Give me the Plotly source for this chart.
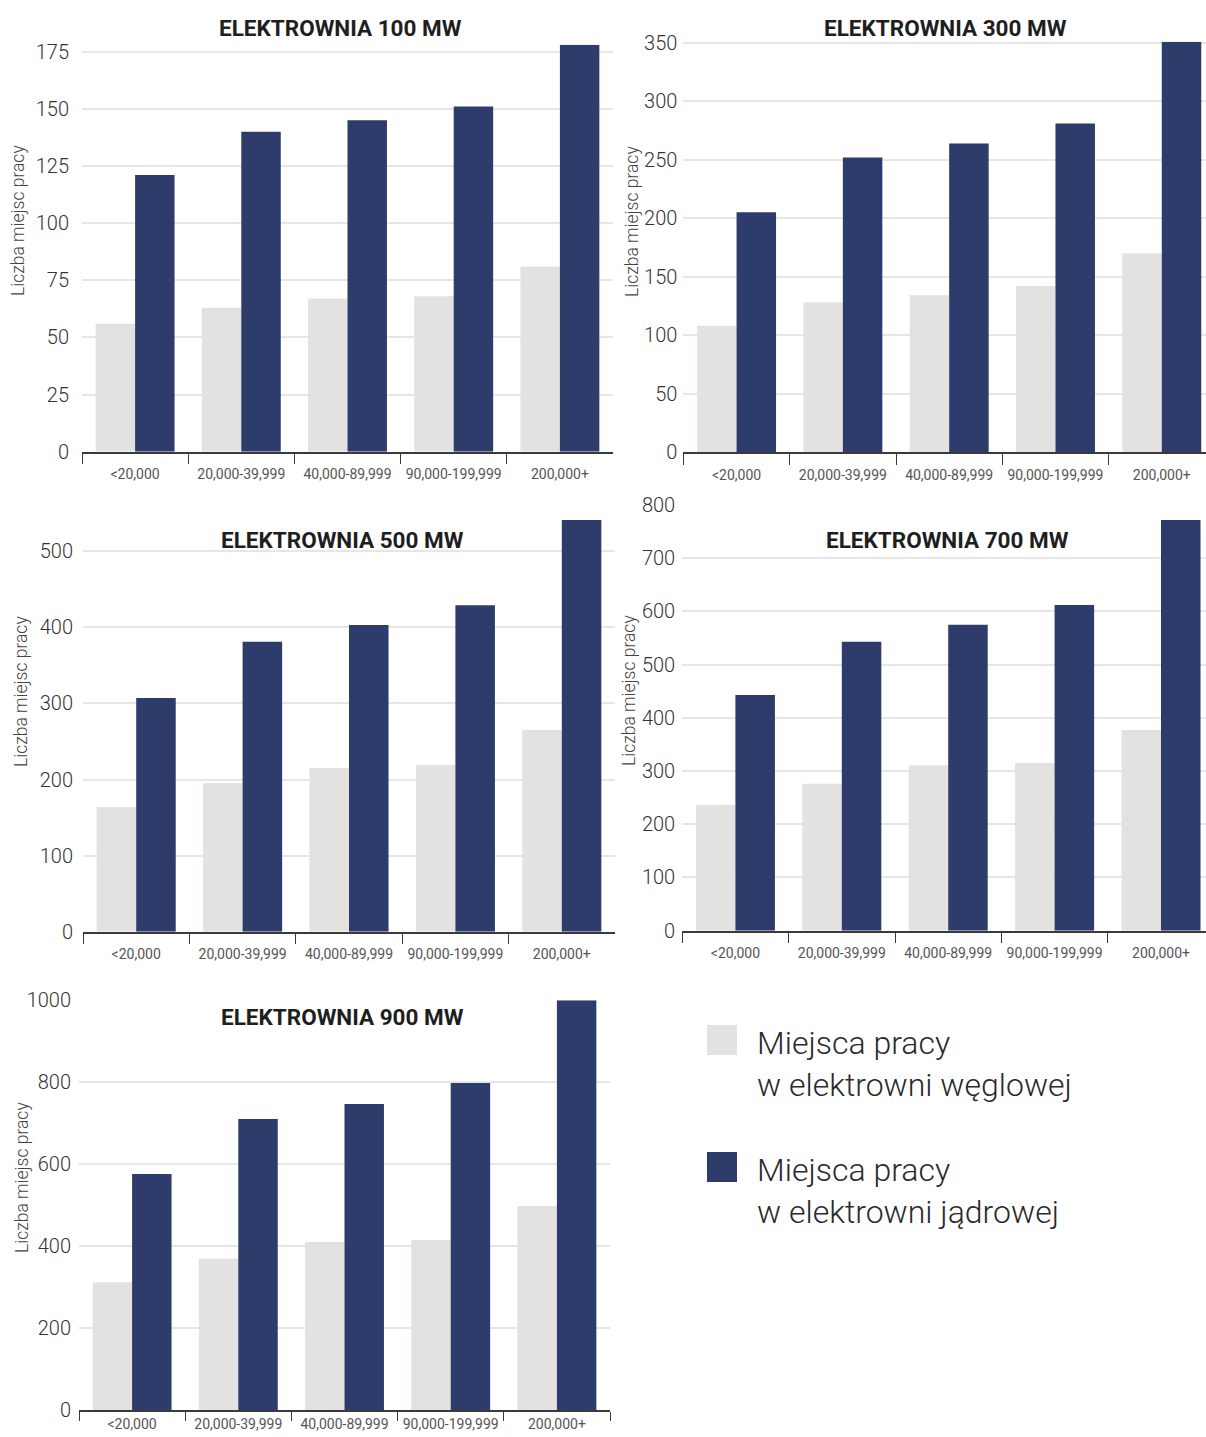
import plotly.graph_objects as go

# Town size classes (population) on the x axis
categories = ["<20,000", "20,000-39,999", "40,000-89,999", "90,000-199,999", "200,000+"]

series_names = ["Miejsca pracy<br>w elektrowni węglowej", "Miejsca pracy<br>w elektrowni jądrowej"]

# Jobs per plant size: coal vs nuclear
coal_100 = [56, 63, 67, 68, 81]
nuclear_100 = [121, 140, 145, 151, 178]
coal_300 = [108, 128, 134, 142, 170]
nuclear_300 = [205, 252, 264, 281, 351]
coal_500 = [164, 195, 215, 219, 265]
nuclear_500 = [307, 381, 403, 429, 541]
coal_700 = [236, 276, 311, 315, 377]
nuclear_700 = [443, 543, 575, 612, 772]
coal_900 = [312, 369, 410, 415, 498]
nuclear_900 = [576, 710, 747, 798, 1000]

titles = ["ELEKTROWNIA 100 MW", "ELEKTROWNIA 300 MW", "ELEKTROWNIA 500 MW",
          "ELEKTROWNIA 700 MW", "ELEKTROWNIA 900 MW"]
y_title = "Liczba miejsc pracy"

COAL = "#E3E2E0"
NUCLEAR = "#2D3C6A"
W, H = 1206, 1437
FONT = "Roboto"


def px(x):
    return x / W


def py(y):
    return 1 - y / H


# layout of each panel in pixels: x0, x1, top, bottom, x-range end, y-range end, dtick,
# title position, y-title position, y tick-label standoff, x tick length / label standoff
panels = [
    dict(coal=coal_100, nuc=nuclear_100, x=(82, 613), y=(44.8, 451.7), xr=4.5, yr=178, dt=25,
         t=(340, 28), yt=(18, 221), so=12, tl=11, xso=9),
    dict(coal=coal_300, nuc=nuclear_300, x=(683.4, 1206), y=(41.7, 452), xr=4.416, yr=351, dt=50,
         t=(945, 28), yt=(632, 221), so=5, tl=11, xso=9),
    dict(coal=coal_500, nuc=nuclear_500, x=(83, 615), y=(520, 931.7), xr=4.5, yr=541, dt=100,
         t=(342, 540), yt=(21, 692), so=9, tl=11, xso=9),
    dict(coal=coal_700, nuc=nuclear_700, x=(682.2, 1206), y=(505, 930.7), xr=4.423, yr=800, dt=100,
         t=(947, 540), yt=(629, 691), so=6, tl=11, xso=9),
    dict(coal=coal_900, nuc=nuclear_900, x=(79, 610), y=(1000.3, 1410), xr=4.5, yr=1000, dt=200,
         t=(342, 1017), yt=(22, 1178), so=7, tl=9, xso=0),
]

fig = go.Figure()
annotations = []
layout_axes = {}

for i, p in enumerate(panels, start=1):
    xa = "x" if i == 1 else f"x{i}"
    ya = "y" if i == 1 else f"y{i}"
    fig.add_trace(go.Bar(x=categories, y=p["coal"], name=series_names[0], marker_color=COAL,
                         marker_line_width=0, xaxis=xa, yaxis=ya, showlegend=False,
                         offsetgroup="coal"))
    fig.add_trace(go.Bar(x=categories, y=p["nuc"], name=series_names[1], marker_color=NUCLEAR,
                         marker_line_width=0, xaxis=xa, yaxis=ya, showlegend=False,
                         offsetgroup="nuc"))

    xkey = "xaxis" if i == 1 else f"xaxis{i}"
    ykey = "yaxis" if i == 1 else f"yaxis{i}"
    layout_axes[xkey] = dict(
        domain=[px(p["x"][0]), px(p["x"][1])], anchor=ya,
        type="category", range=[-0.5, p["xr"]],
        showline=True, linecolor="#3a3a3a", linewidth=1.5,
        ticks="outside", tickson="boundaries", ticklen=p["tl"], tickwidth=1, tickcolor="#3a3a3a",
        tickfont=dict(family=FONT, size=14, color="#555555"),
        tickangle=0, automargin=False,
        ticklabelstandoff=p["xso"], showgrid=False, zeroline=False, fixedrange=True,
    )
    layout_axes[ykey] = dict(
        domain=[py(p["y"][1]), py(p["y"][0])], anchor=xa,
        range=[0, p["yr"]], tick0=0, dtick=p["dt"],
        showgrid=True, gridcolor="#E6E6E6", gridwidth=1.5,
        showline=False, zeroline=False, ticks="", automargin=False,
        tickfont=dict(family=FONT, size=20, color="#333333", weight=300),
        ticklabelstandoff=p["so"], fixedrange=True,
    )
    annotations.append(dict(
        text=f"<b>{titles[i - 1]}</b>", x=px(p["t"][0]), y=py(p["t"][1]),
        xref="paper", yref="paper", xanchor="center", yanchor="middle", showarrow=False,
        font=dict(family=FONT, size=22.5, color="#1e1e1e"),
    ))
    annotations.append(dict(
        text=y_title, x=px(p["yt"][0]), y=py(p["yt"][1]), textangle=-90,
        xref="paper", yref="paper", xanchor="center", yanchor="middle", showarrow=False,
        font=dict(family=FONT, size=17.5, color="#444444", weight=300),
    ))

# custom legend block in the empty bottom-right cell
shapes = []
legend_items = [(COAL, 1025, 1064), (NUCLEAR, 1152, 1191)]
for (color, sq_top, text_mid), name in zip(legend_items, series_names):
    shapes.append(dict(type="rect", xref="paper", yref="paper",
                       x0=px(707), x1=px(737), y0=py(sq_top + 30), y1=py(sq_top),
                       fillcolor=color, line_width=0))
    annotations.append(dict(
        text=name, x=px(755), y=py(text_mid), xref="paper", yref="paper",
        xanchor="left", yanchor="middle", align="left", showarrow=False,
        font=dict(family=FONT, size=32, color="#2a2a2a", weight=300),
    ))

fig.update_layout(
    width=W, height=H,
    margin=dict(l=0, r=0, t=0, b=0, autoexpand=False),
    paper_bgcolor="white", plot_bgcolor="white",
    barmode="group", bargap=0.257, bargroupgap=0,
    annotations=annotations, shapes=shapes,
    showlegend=False,
    **layout_axes,
)

fig.write_html("out.html", config={"displayModeBar": False})
